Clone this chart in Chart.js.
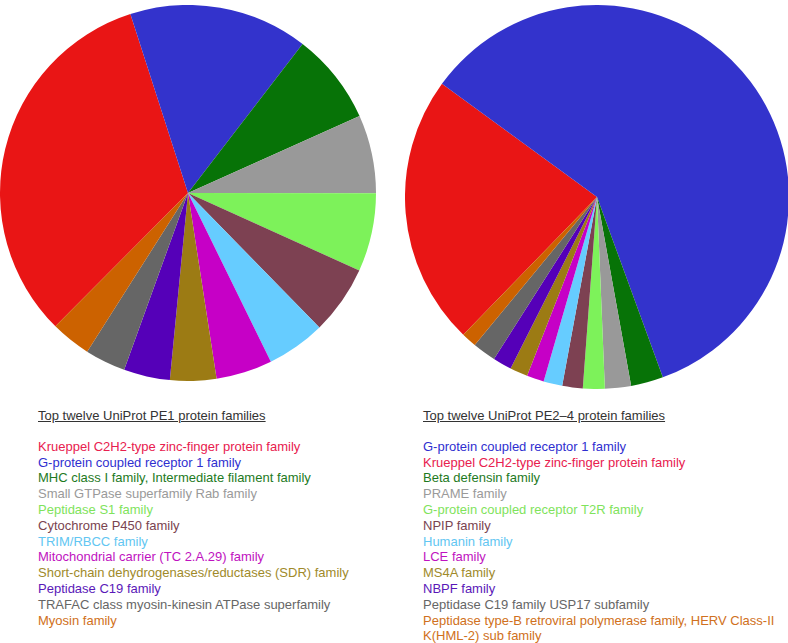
<!DOCTYPE html>
<html>
<head>
<meta charset="utf-8">
<script src="https://cdn.jsdelivr.net/npm/chart.js@4/dist/chart.umd.min.js"></script>
<style>
  html, body { margin: 0; padding: 0; background: #fff; }
  body { width: 788px; height: 643px; position: relative; overflow: hidden;
         font-family: "Liberation Sans", Arial, Helvetica, sans-serif; }
  #c1 { position: absolute; left: 0px; top: 5px; }
  #c2 { position: absolute; left: 405px; top: 5px; }
  .legend { position: absolute; top: 408px; font-size: 13px; line-height: 15.8px; white-space: nowrap; }
  .legend .title { color: #333; text-decoration: underline; margin-bottom: 15px; }
  #l1 { left: 38px; }
  #l2 { left: 423px; }
</style>
</head>
<body>
<canvas id="c1" width="376" height="376"></canvas>
<canvas id="c2" width="384" height="384"></canvas>
<div class="legend" id="l1"></div>
<div class="legend" id="l2"></div>
<script>
// Left chart: UniProt PE1 (values in degrees-share)
const pe1Title = "Top twelve UniProt PE1 protein families";
const pe1Families = [
  "Krueppel C2H2-type zinc-finger protein family",
  "G-protein coupled receptor 1 family",
  "MHC class I family, Intermediate filament family",
  "Small GTPase superfamily Rab family",
  "Peptidase S1 family",
  "Cytochrome P450 family",
  "TRIM/RBCC family",
  "Mitochondrial carrier (TC 2.A.29) family",
  "Short-chain dehydrogenases/reductases (SDR) family",
  "Peptidase C19 family",
  "TRAFAC class myosin-kinesin ATPase superfamily",
  "Myosin family"
];
const pe1Values = [117.3, 55.4, 28.3, 24.2, 24.3, 21.3, 18.2, 17.4, 14.3, 14.3, 12.6, 12.4];

// Right chart: UniProt PE2-4 (legend order)
const pe24Title = "Top twelve UniProt PE2\u20134 protein families";
const pe24Families = [
  "G-protein coupled receptor 1 family",
  "Krueppel C2H2-type zinc-finger protein family",
  "Beta defensin family",
  "PRAME family",
  "G-protein coupled receptor T2R family",
  "NPIP family",
  "Humanin family",
  "LCE family",
  "MS4A family",
  "NBPF family",
  "Peptidase C19 family USP17 subfamily",
  "Peptidase type-B retroviral polymerase family, HERV Class-II K(HML-2) sub family"
];
const pe24Values = [213.8, 82.0, 9.8, 7.9, 6.6, 6.2, 5.7, 5.2, 5.4, 5.7, 7.1, 4.6];

// Slice colours (by legend rank of each chart) and legend text colours
const sliceColorsPE1 = ["#E91515", "#3333CC", "#077307", "#999999", "#7DF25A", "#7D4152",
                        "#66CCFF", "#C600C6", "#9C7B14", "#5500B8", "#666666", "#CC6200"];
const textColorsPE1 = ["#E8204E", "#2F2FD0", "#1E7A1E", "#9A9A9A", "#7FE35C", "#7A4450",
                       "#62C6F2", "#C012C0", "#A08A2A", "#5A18B8", "#666666", "#D07020"];
const sliceColorsPE24 = ["#3333CC", "#E91515", "#077307", "#999999", "#7DF25A", "#7D4152",
                         "#66CCFF", "#C600C6", "#9C7B14", "#5500B8", "#666666", "#CC6200"];
const textColorsPE24 = ["#2F2FD0", "#E8204E", "#1E7A1E", "#9A9A9A", "#7FE35C", "#7A4450",
                        "#62C6F2", "#C012C0", "#A08A2A", "#5A18B8", "#666666", "#D07020"];

// Right pie draws Krueppel first, then the rest in legend order
const pe24PieOrder = [1, 0, 2, 3, 4, 5, 6, 7, 8, 9, 10, 11];

function pieConfig(labels, values, colors, rotation) {
  return {
    type: 'pie',
    data: { labels: labels, datasets: [{ data: values, backgroundColor: colors, borderWidth: 0 }] },
    options: {
      responsive: false, animation: false, rotation: rotation,
      layout: { padding: 0 },
      plugins: { legend: { display: false }, tooltip: { enabled: false }, title: { display: false } }
    }
  };
}

new Chart(document.getElementById('c1'),
  pieConfig(pe1Families, pe1Values, sliceColorsPE1, 224.85));

new Chart(document.getElementById('c2'),
  pieConfig(pe24PieOrder.map(i => pe24Families[i]),
            pe24PieOrder.map(i => pe24Values[i]),
            pe24PieOrder.map(i => sliceColorsPE24[i]), 224.15));

function buildLegend(el, title, names, colors, breakAt) {
  const t = document.createElement('div');
  t.className = 'title'; t.textContent = title; el.appendChild(t);
  names.forEach((n, i) => {
    const d = document.createElement('div');
    d.style.color = colors[i];
    if (breakAt && n.indexOf(breakAt) > 0) {
      const k = n.indexOf(breakAt);
      d.appendChild(document.createTextNode(n.slice(0, k).trim()));
      d.appendChild(document.createElement('br'));
      d.appendChild(document.createTextNode(n.slice(k)));
    } else {
      d.textContent = n;
    }
    el.appendChild(d);
  });
}
buildLegend(document.getElementById('l1'), pe1Title, pe1Families, textColorsPE1);
buildLegend(document.getElementById('l2'), pe24Title, pe24Families, textColorsPE24, "K(HML-2)");
</script>
</body>
</html>
